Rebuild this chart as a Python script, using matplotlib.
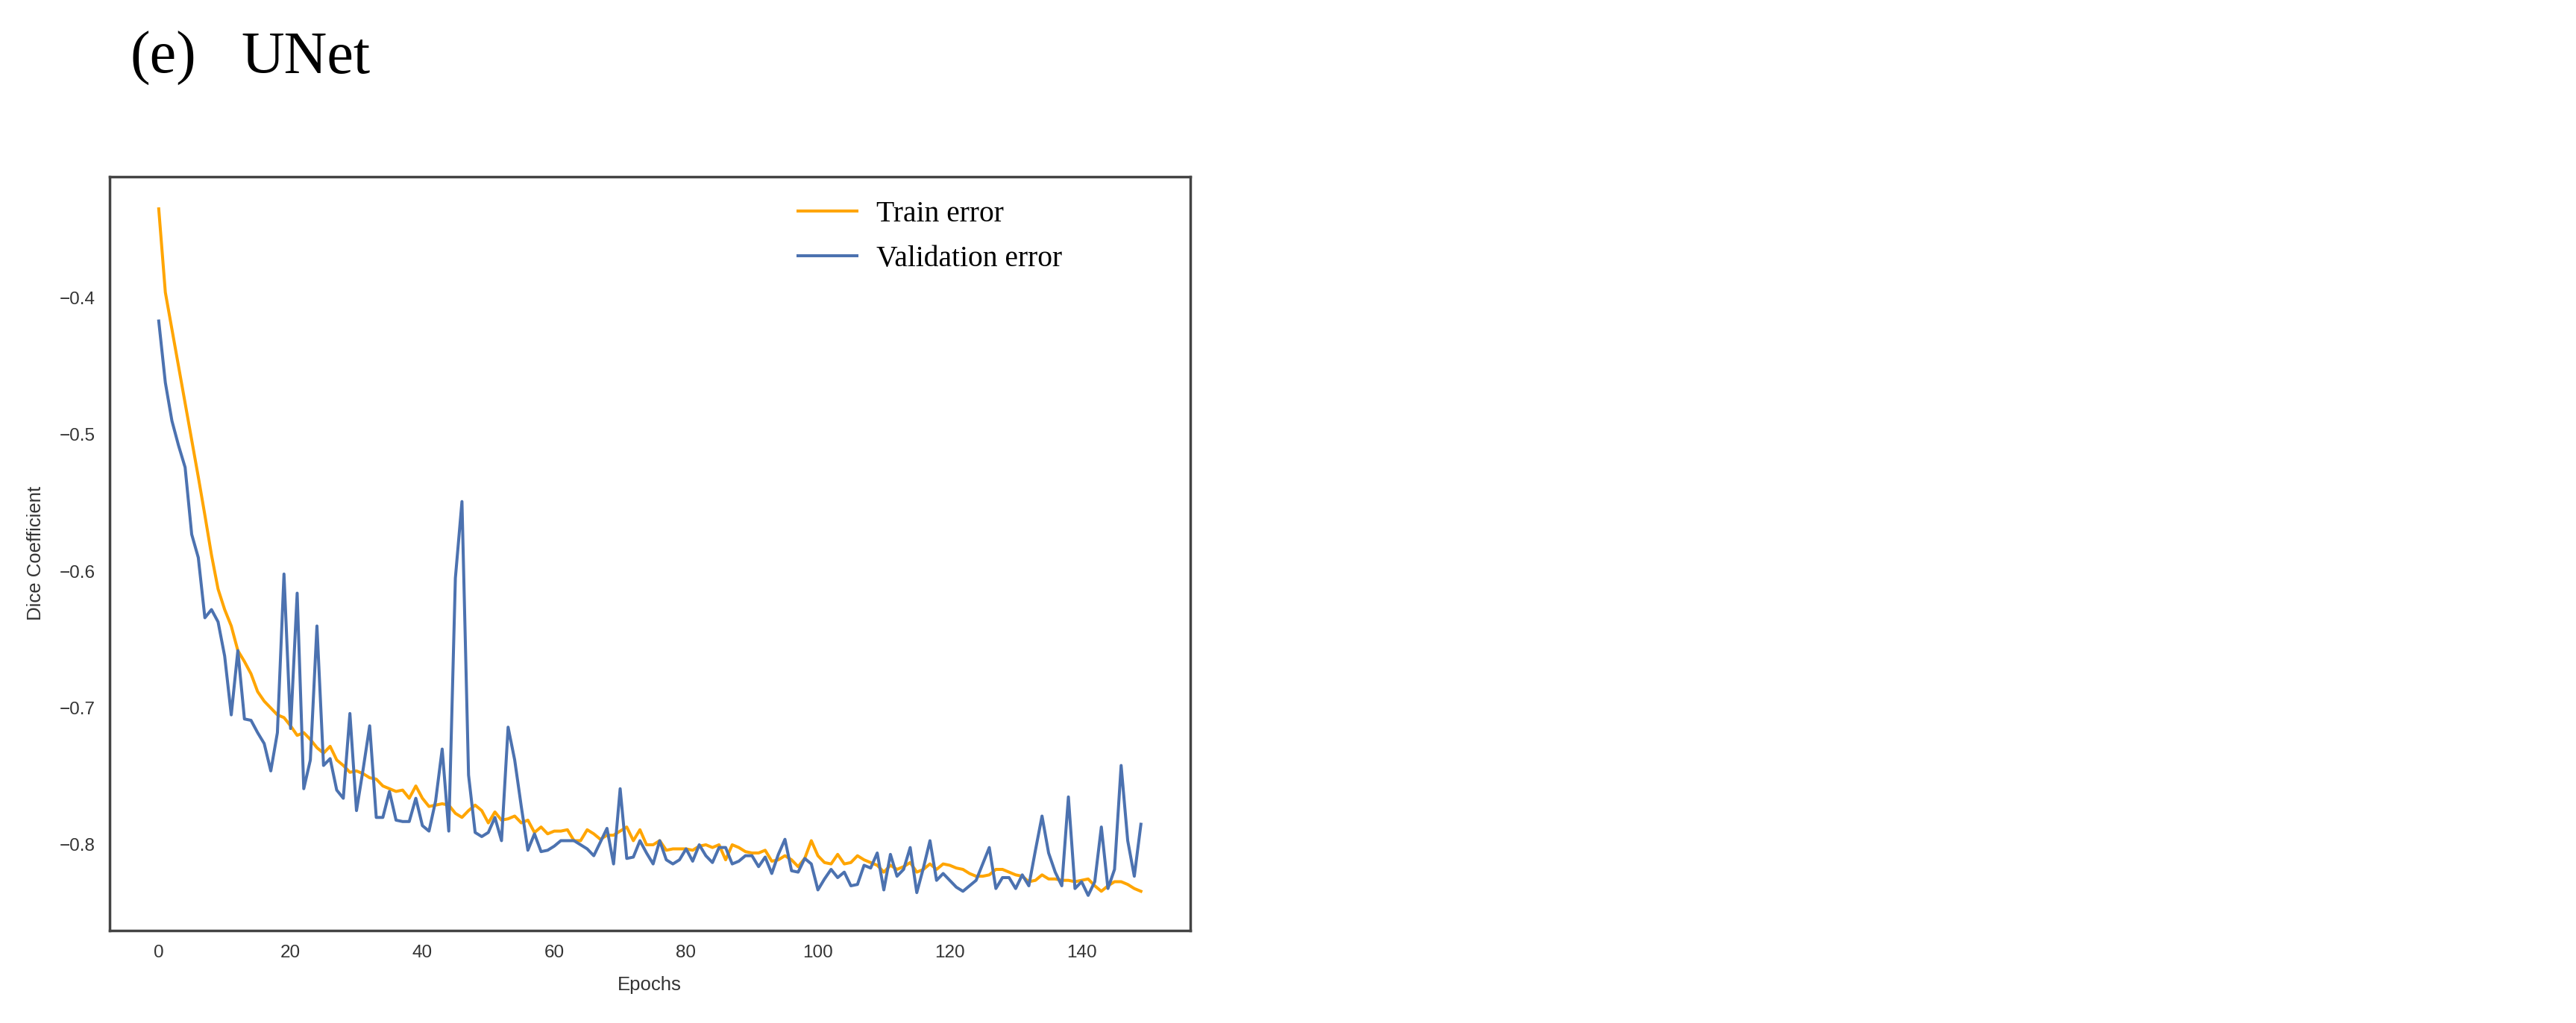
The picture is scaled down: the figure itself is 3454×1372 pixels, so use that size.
import numpy as np
import matplotlib
matplotlib.use("Agg")
import matplotlib.pyplot as plt

# values (epochs 0..149)
train_error = [
    -0.335, -0.396, -0.423, -0.450, -0.477, -0.504, -0.531, -0.559, -0.588, -0.613,
    -0.628, -0.640, -0.658, -0.666, -0.675, -0.688, -0.695, -0.700, -0.705, -0.707,
    -0.713, -0.720, -0.718, -0.723, -0.729, -0.733, -0.728, -0.738, -0.742, -0.747,
    -0.746, -0.748, -0.751, -0.752, -0.757, -0.759, -0.761, -0.760, -0.766, -0.757,
    -0.766, -0.772, -0.771, -0.770, -0.771, -0.777, -0.780, -0.775, -0.771, -0.775,
    -0.784, -0.776, -0.782, -0.781, -0.779, -0.784, -0.782, -0.791, -0.787, -0.792,
    -0.790, -0.790, -0.789, -0.797, -0.797, -0.789, -0.792, -0.796, -0.793, -0.793,
    -0.790, -0.787, -0.797, -0.789, -0.800, -0.800, -0.797, -0.804, -0.803, -0.803,
    -0.803, -0.804, -0.801, -0.800, -0.802, -0.800, -0.811, -0.800, -0.802, -0.805,
    -0.806, -0.806, -0.804, -0.812, -0.811, -0.808, -0.811, -0.816, -0.810, -0.797,
    -0.808, -0.813, -0.814, -0.807, -0.814, -0.813, -0.808, -0.811, -0.813, -0.815,
    -0.820, -0.815, -0.818, -0.816, -0.813, -0.820, -0.818, -0.814, -0.818, -0.814,
    -0.815, -0.817, -0.818, -0.821, -0.823, -0.823, -0.822, -0.818, -0.818, -0.820,
    -0.822, -0.823, -0.827, -0.826, -0.822, -0.825, -0.825, -0.826, -0.826, -0.827,
    -0.826, -0.825, -0.830, -0.834, -0.830, -0.827, -0.827, -0.829, -0.832, -0.834,
]

val_error = [
    -0.417, -0.462, -0.490, -0.508, -0.524, -0.573, -0.590, -0.634, -0.628, -0.637,
    -0.662, -0.705, -0.658, -0.708, -0.709, -0.718, -0.726, -0.746, -0.718, -0.602,
    -0.715, -0.616, -0.759, -0.738, -0.640, -0.742, -0.737, -0.760, -0.766, -0.704,
    -0.775, -0.745, -0.713, -0.780, -0.780, -0.761, -0.782, -0.783, -0.783, -0.766,
    -0.786, -0.790, -0.768, -0.730, -0.790, -0.605, -0.549, -0.749, -0.791, -0.794,
    -0.791, -0.780, -0.797, -0.714, -0.738, -0.772, -0.804, -0.792, -0.805, -0.804,
    -0.801, -0.797, -0.797, -0.797, -0.800, -0.803, -0.808, -0.798, -0.788, -0.814,
    -0.759, -0.810, -0.809, -0.797, -0.806, -0.814, -0.797, -0.811, -0.814, -0.811,
    -0.803, -0.812, -0.800, -0.808, -0.813, -0.802, -0.802, -0.814, -0.812, -0.808,
    -0.808, -0.816, -0.809, -0.821, -0.807, -0.796, -0.819, -0.820, -0.810, -0.814,
    -0.833, -0.825, -0.818, -0.824, -0.820, -0.830, -0.829, -0.815, -0.817, -0.806,
    -0.833, -0.807, -0.823, -0.818, -0.802, -0.835, -0.817, -0.797, -0.826, -0.821,
    -0.826, -0.831, -0.834, -0.830, -0.826, -0.814, -0.802, -0.832, -0.824, -0.824,
    -0.832, -0.822, -0.830, -0.804, -0.779, -0.806, -0.820, -0.830, -0.765, -0.832,
    -0.827, -0.837, -0.827, -0.787, -0.832, -0.818, -0.742, -0.797, -0.823, -0.785,
]

epochs = np.arange(len(train_error))
x_ticks = [0, 20, 40, 60, 80, 100, 120, 140]
y_ticks = [-0.8, -0.7, -0.6, -0.5, -0.4]

plt.rcParams['font.family'] = ['Liberation Sans', 'DejaVu Sans']
plt.rcParams['axes.unicode_minus'] = True

fig = plt.figure(figsize=(34.54, 13.72), dpi=100)
ax = fig.add_axes([0.04256, 0.0904, 0.4194, 0.7371])

ax.plot(epochs, train_error, color="#FFA500", linewidth=2.9, label="Train error")
ax.plot(epochs, val_error, color="#4C72B0", linewidth=2.9, label="Validation error")

ax.set_xlim(-7.45, 156.45)
ax.set_ylim(-0.8627, -0.3113)
ax.set_xticks(x_ticks)
ax.set_yticks(y_ticks)
ax.tick_params(axis="both", length=0, labelsize=17.5, colors="#333333", pad=14)

for sp in ax.spines.values():
    sp.set_color("#444444")
    sp.set_linewidth(2.5)

ax.set_xlabel("Epochs", fontsize=18.5, color="#333333", labelpad=14)
ax.set_ylabel("Dice Coefficient", fontsize=18.5, color="#333333", labelpad=14)

ax.legend(loc="upper left", bbox_to_anchor=(0.637, 0.968), frameon=False,
          prop={"family": "Liberation Serif", "size": 28.5},
          handlelength=2.0, handletextpad=0.65, labelspacing=0.58,
          borderpad=0, borderaxespad=0)

fig.text(175 / 3454, 1 - 98 / 1372, "(e)", fontsize=57.6,
         family="Liberation Serif", ha="left", va="baseline")
fig.text(323 / 3454, 1 - 98 / 1372, "UNet", fontsize=57.6,
         family="Liberation Serif", ha="left", va="baseline")

fig.savefig("out.png", dpi=100, facecolor="white")
